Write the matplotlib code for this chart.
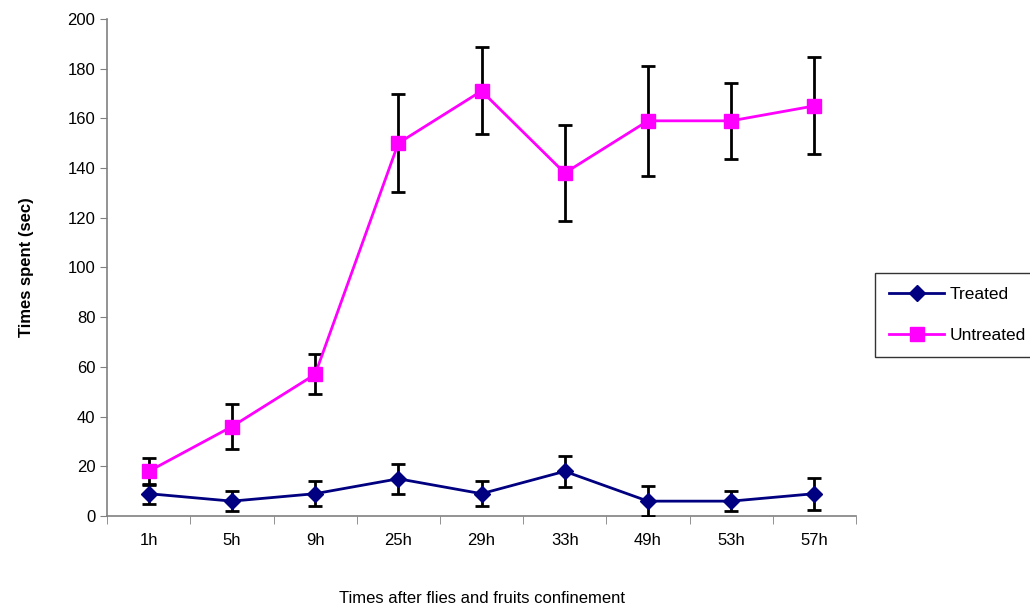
import matplotlib.pyplot as plt
import numpy as np

plt.rcParams['font.family'] = ['Liberation Sans', 'DejaVu Sans']

hours = ['1h', '5h', '9h', '25h', '29h', '33h', '49h', '53h', '57h']
treated = [9, 6, 9, 15, 9, 18, 6, 6, 9]
treated_err = [4, 4, 5, 6, 5, 6.3, 6, 4, 6.5]
untreated = [18, 36, 57, 150, 171, 138, 159, 159, 165]
untreated_err = [5.5, 9, 8, 19.6, 17.5, 19.3, 22, 15.3, 19.5]

fig = plt.figure(figsize=(10.3, 6.1), dpi=100)
ax = fig.add_axes([0.104, 0.154, 0.727, 0.815])

x = np.arange(len(hours))
t = ax.errorbar(x, treated, yerr=treated_err, color='#000080', marker='D', markersize=8,
                linewidth=2, ecolor='black', elinewidth=2, capsize=5, capthick=2,
                label='Treated', zorder=3)
u = ax.errorbar(x, untreated, yerr=untreated_err, color='#FF00FF', marker='s', markersize=10,
                linewidth=2, ecolor='black', elinewidth=2, capsize=5, capthick=2,
                label='Untreated', zorder=3)

ax.set_xlim(-0.5, len(hours) - 0.5)
ax.set_ylim(0, 200)
ax.set_yticks(range(0, 201, 20))
ax.set_xticks(x)
ax.set_xticklabels(hours)
ax.set_xticks(np.arange(len(hours) + 1) - 0.5, minor=True)
ax.tick_params(axis='x', which='major', length=0, labelsize=12, pad=12)
ax.tick_params(axis='x', which='minor', length=6, direction='out', color='#808080')
ax.tick_params(axis='y', length=5, direction='out', color='#808080', labelsize=12)

for s in ['top', 'right']:
    ax.spines[s].set_visible(False)
for s in ['left', 'bottom']:
    ax.spines[s].set_color('#808080')
    ax.spines[s].set_linewidth(1.2)

ax.set_ylabel('Times spent (sec)', fontsize=12, fontweight='bold', labelpad=24)
ax.set_xlabel('Times after flies and fruits confinement', fontsize=12, labelpad=31)

leg = fig.legend(handles=[t[0], u[0]], labels=['Treated', 'Untreated'],
                 loc='center left', bbox_to_anchor=(0.841, 0.484), fontsize=12.5,
                 frameon=True, fancybox=False, borderpad=0.8, labelspacing=1.5,
                 handlelength=3.2, handletextpad=0.3, edgecolor='black')
leg.get_frame().set_linewidth(1)

fig.savefig('out.png', dpi=100)
